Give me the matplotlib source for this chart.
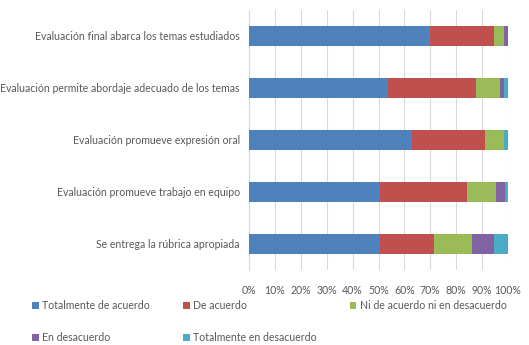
import matplotlib
matplotlib.use("Agg")
import matplotlib.pyplot as plt
import numpy as np

plt.rcParams['font.family'] = ['Lato', 'DejaVu Sans']

categories = [
    "Evaluación final abarca los temas estudiados",
    "Evaluación permite abordaje adecuado de los temas",
    "Evaluación promueve expresión oral",
    "Evaluación promueve trabajo en equipo",
    "Se entrega la rúbrica apropiada",
]
series_names = [
    "Totalmente de acuerdo",
    "De acuerdo",
    "Ni de acuerdo ni en desacuerdo",
    "En desacuerdo",
    "Totalmente en desacuerdo",
]
totalmente_de_acuerdo = [70.0, 53.5, 63.0, 50.5, 50.5]
de_acuerdo = [24.5, 34.0, 28.0, 33.5, 21.0]
ni_ni = [4.0, 9.5, 7.5, 11.5, 14.5]
en_desacuerdo = [1.5, 1.5, 0.0, 3.5, 8.5]
totalmente_en_desacuerdo = [0.0, 1.5, 1.5, 1.0, 5.5]
xticks = [0, 10, 20, 30, 40, 50, 60, 70, 80, 90, 100]
xtick_labels = [f"{t}%" for t in xticks]

colors = ["#4F81BD", "#C0504D", "#9BBB59", "#8064A2", "#4BACC6"]
text_color = "#595959"

series = [totalmente_de_acuerdo, de_acuerdo, ni_ni, en_desacuerdo, totalmente_en_desacuerdo]

fig = plt.figure(figsize=(5.29, 3.45), dpi=100)
ax = fig.add_axes([249/529, 1-270/345, (508-249)/529, (270-10)/345])

y = np.arange(len(categories))
left = np.zeros(len(categories))
handles = []
for vals, name, c in zip(series, series_names, colors):
    vals = np.array(vals)
    b = ax.barh(y, vals, left=left, height=0.38, color=c, label=name, zorder=3)
    handles.append(b)
    left += vals

ax.set_xlim(0, 100)
ax.set_ylim(len(categories) - 0.5, -0.5)
ax.set_yticks(y)
ax.set_yticklabels(categories)
ax.set_xticks(xticks)
ax.set_xticklabels(xtick_labels)
ax.tick_params(axis='both', length=0, labelsize=7.6, colors=text_color)
ax.tick_params(axis='y', pad=6.5)
ax.tick_params(axis='x', pad=11)
ax.grid(axis='x', color="#D9D9D9", linewidth=0.8, zorder=0)
for s in ['top', 'right', 'bottom']:
    ax.spines[s].set_visible(False)
ax.spines['left'].set_color("#D9D9D9")

order = [0, 3, 1, 4, 2]
leg = fig.legend([handles[i] for i in order], [series_names[i] for i in order],
                 ncol=3, loc='upper left', bbox_to_anchor=(28/529, 1-296/345),
                 frameon=False, fontsize=7.6, handlelength=0.6, handleheight=0.6,
                 handletextpad=0.3, columnspacing=3.2, labelspacing=2.0,
                 labelcolor=text_color, borderaxespad=0)

fig.savefig("out.png", dpi=100, facecolor="white")
